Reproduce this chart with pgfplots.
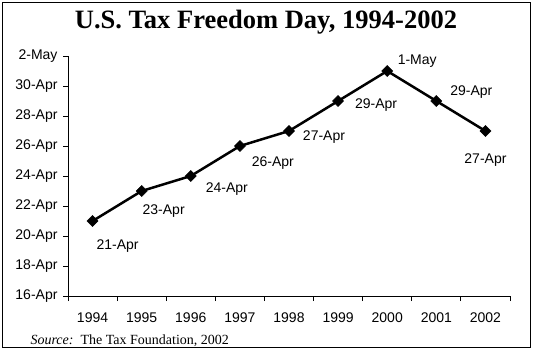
\documentclass[border=0pt]{standalone}
\usepackage{pgfplots}
\pgfplotsset{compat=1.18}
\usepackage{fontspec}
\setmainfont{Liberation Serif}
\newfontfamily\arial{Liberation Sans}
\begin{document}
\begin{tikzpicture}[x=1pt,y=1pt]
\useasboundingbox (0,0) rectangle (534,359);
\draw[line width=1pt] (2.5,356.5) rectangle (530.5,12);
\node[font=\bfseries\fontsize{26.5}{30}\selectfont] at (266,337) {U.S. Tax Freedom Day, 1994-2002};
\node[anchor=base west, font=\fontsize{14}{16}\selectfont] at (27,15) {\textit{Source:}\ \ The Tax Foundation, 2002};
\begin{axis}[
  at={(68pt,63pt)}, anchor=south west,
  scale only axis, width=442pt, height=240pt,
  xmin=-0.5, xmax=8.5, ymin=16, ymax=32,
  axis x line=bottom, axis y line=left,
  axis line style={-, line width=0.8pt},
  tick align=outside, major tick length=5pt,
  tick style={line width=0.8pt, black},
  xtick={-0.5,0.5,1.5,2.5,3.5,4.5,5.5,6.5,7.5,8.5},
  x tick label as interval,
  xticklabels={1994,1995,1996,1997,1998,1999,2000,2001,2002},
  xticklabel style={yshift=-8pt},
  ytick={16,18,20,22,24,26,28,30,32},
  yticklabels={16-Apr,18-Apr,20-Apr,22-Apr,24-Apr,26-Apr,28-Apr,30-Apr,2-May},
  yticklabel style={xshift=-2pt},
  tick label style={font=\arial\fontsize{14}{16}\selectfont},
  clip=false,
]
\addplot[black, line width=2.5pt, mark=square*, mark size=3.9pt, mark options={rotate=45, line width=0.5pt}]
  coordinates {(0,21) (1,23) (2,24) (3,26) (4,27) (5,29) (6,31) (7,29) (8,27)};
\begin{scope}[every node/.style={font=\arial\fontsize{14}{16}\selectfont}]
\node[xshift=25pt, yshift=-25pt] at (axis cs:0,21) {21-Apr};
\node[xshift=22pt, yshift=-20pt] at (axis cs:1,23) {23-Apr};
\node[xshift=36pt, yshift=-13pt] at (axis cs:2,24) {24-Apr};
\node[xshift=33pt, yshift=-17pt] at (axis cs:3,26) {26-Apr};
\node[xshift=35pt, yshift=-6pt] at (axis cs:4,27) {27-Apr};
\node[xshift=38pt, yshift=-4pt] at (axis cs:5,29) {29-Apr};
\node[xshift=30pt, yshift=10pt] at (axis cs:6,31) {1-May};
\node[xshift=35pt, yshift=9pt] at (axis cs:7,29) {29-Apr};
\node[xshift=0pt, yshift=-29pt] at (axis cs:8,27) {27-Apr};
\end{scope}
\end{axis}
\end{tikzpicture}
\end{document}
